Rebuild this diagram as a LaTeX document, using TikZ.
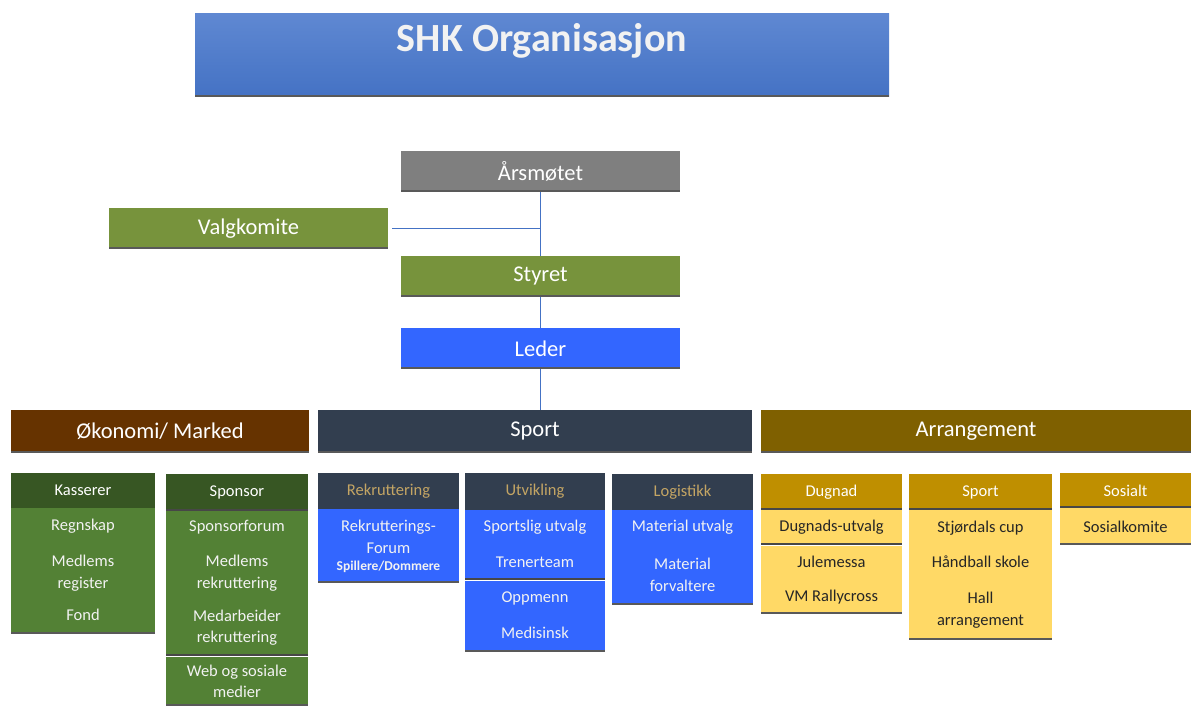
\documentclass[tikz,border=0pt]{standalone}
\usepackage{fontspec}
\setmainfont{Carlito}
\definecolor{grayb}{HTML}{7F7F7F}
\definecolor{greenb}{HTML}{77933C}
\definecolor{blueb}{HTML}{3366FF}
\definecolor{brownb}{HTML}{663300}
\definecolor{navyb}{HTML}{323E4F}
\definecolor{oliveb}{HTML}{7F6000}
\definecolor{dkgreen}{HTML}{375623}
\definecolor{midgreen}{HTML}{538135}
\definecolor{goldb}{HTML}{BF8F00}
\definecolor{lyellow}{HTML}{FFD966}
\definecolor{goldtxt}{HTML}{C4A564}
\definecolor{botgray}{HTML}{595959}
\definecolor{connb}{HTML}{4472C4}
\definecolor{titletop}{HTML}{5F88D2}
\definecolor{titlebot}{HTML}{4472C4}
\definecolor{darktxt}{HTML}{262626}
\tikzset{
  bx/.style={anchor=north west, inner sep=0pt, outer sep=0pt},
  big/.style={bx, text=white, font=\fontsize{22.5}{26}\selectfont},
  hd/.style={bx, font=\fontsize{16.5}{20}\selectfont},
  item/.style={inner sep=0pt, align=center, font=\fontsize{16.5}{21.5}\selectfont},
  bot/.style={draw=botgray, line width=2.5pt},
  sep/.style={draw=botgray!80!black, line width=1.6pt},
  conn/.style={draw=connb, line width=1pt}
}
\begin{document}
\begin{tikzpicture}[x=1pt,y=-1pt]
\useasboundingbox (0,0) rectangle (1191,706);
% title
\node[bx, top color=titletop, bottom color=titlebot, minimum width=694pt, minimum height=83pt] (title) at (195,14) {};
\node[text=white!95!black, font=\fontsize{40}{44}\selectfont\bfseries, inner sep=0pt] (titletxt) at (542,41) {SHK Organisasjon};
\draw[bot] ([yshift=1.2pt]title.south west) -- ([yshift=1.2pt]title.south east);

% top chain
\node[big, fill=grayb, minimum width=279pt, minimum height=41pt] (aars) at (401,151) {Årsmøtet};
\node[big, fill=greenb, minimum width=279pt, minimum height=41pt] (valg) at (109,208) {Valgkomite};
\node[big, fill=greenb, minimum width=279pt, minimum height=41pt] (styret) at (401,256) {Styret};
\node[big, fill=blueb, minimum width=279pt, minimum height=41pt] (leder) at (401,328) {Leder};

\node[big, fill=brownb, minimum width=298pt, minimum height=43pt] (okon) at (11,410) {Økonomi/ Marked};
\node[big, fill=navyb, minimum width=434pt, minimum height=43pt] (sport) at (318,410) {Sport};
\node[big, fill=oliveb, minimum width=430pt, minimum height=43pt] (arr) at (761,410) {Arrangement};

\draw[conn] (aars.south) -- (styret.north);
\draw[conn] ([xshift=4pt]valg.east) -- (valg.east -| aars.south);
\draw[conn] (styret.south) -- (leder.north);
\draw[conn] (leder.south) -- (leder.south |- sport.north);

% Okonomi columns
\node[hd, fill=dkgreen, text=white, minimum width=144pt, minimum height=35pt] (kass) at (11,473) {Kasserer};
\node[bx, fill=midgreen, minimum width=144pt, minimum height=126pt] (kassb) at (11,508) {};
\node[hd, fill=dkgreen, text=white, minimum width=142pt, minimum height=37pt] (spon) at (166,474) {Sponsor};
\node[bx, fill=midgreen, minimum width=142pt, minimum height=145pt] (sponb) at (166,511) {};
\node[bx, fill=midgreen, minimum width=142pt, minimum height=49pt] (web) at (166,657) {};

% Sport columns
\node[hd, fill=navyb, text=goldtxt, minimum width=141pt, minimum height=36pt] (rekr) at (318,473) {Rekruttering};
\node[bx, fill=blueb, minimum width=141pt, minimum height=74pt] (rekrb) at (318,509) {};
\node[hd, fill=navyb, text=goldtxt, minimum width=140pt, minimum height=37pt] (utv) at (465,473) {Utvikling};
\node[bx, fill=blueb, minimum width=140pt, minimum height=70pt] (utvb) at (465,510) {};
\node[bx, fill=blueb, minimum width=140pt, minimum height=71pt] (utvc) at (465,581) {};
\node[hd, fill=navyb, text=goldtxt, minimum width=141pt, minimum height=36pt] (log) at (612,474) {Logistikk};
\node[bx, fill=blueb, minimum width=141pt, minimum height=95pt] (logb) at (612,510) {};

% Arrangement columns
\node[hd, fill=goldb, text=white, minimum width=141pt, minimum height=36pt] (dugn) at (761,474) {Dugnad};
\node[bx, fill=lyellow, minimum width=141pt, minimum height=35pt] (dugnb) at (761,510) {};
\node[bx, fill=lyellow, minimum width=141pt, minimum height=68pt] (dugnc) at (761,546) {};
\node[hd, fill=goldb, text=white, minimum width=143pt, minimum height=36pt] (asport) at (909,474) {Sport};
\node[bx, fill=lyellow, minimum width=143pt, minimum height=130pt] (asportb) at (909,510) {};
\node[hd, fill=goldb, text=white, minimum width=131pt, minimum height=35pt] (sos) at (1060,473) {Sosialt};
\node[bx, fill=lyellow, minimum width=131pt, minimum height=37pt] (sosb) at (1060,508) {};

% bottom borders
\foreach \n in {aars,valg,styret,leder,okon,sport,arr,kassb,web,rekrb,utvc,logb,dugnc,asportb,sosb}{
  \draw[bot] ([yshift=1.2pt]\n.south west) -- ([yshift=1.2pt]\n.south east);
}
\foreach \n in {spon,sponb,utvb,dugn,dugnb,asport,sos}{
  \draw[sep] ([yshift=0.8pt]\n.south west) -- ([yshift=0.8pt]\n.south east);
}

% items
\begin{scope}[every node/.append style={text=white!95!black}]
\node[item] (i1) at (83,526) {Regnskap};
\node[item] (i2) at (83,573) {Medlems\\register};
\node[item] (i3) at (83,615) {Fond};
\node[item] (i4) at (237,527) {Sponsorforum};
\node[item] (i5) at (237,573) {Medlems\\rekruttering};
\node[item] (i6) at (237,627.5) {Medarbeider\\rekruttering};
\node[item] (i7) at (237,681.5) {Web og sosiale\\medier};
\node[item] (i8) at (388.5,537) {Rekrutterings-\\Forum};
\node[item, font=\fontsize{13.5}{16}\selectfont\bfseries] (i9) at (388.5,567) {Spillere/Dommere};
\node[item] (i10) at (535,527) {Sportslig utvalg};
\node[item] (i11) at (535,562) {Trenerteam};
\node[item] (i12) at (535,598) {Oppmenn};
\node[item] (i13) at (535,633) {Medisinsk};
\node[item] (i14) at (682.5,527) {Material utvalg};
\node[item] (i15) at (682.5,575) {Material\\forvaltere};
\end{scope}
\begin{scope}[every node/.append style={text=darktxt}]
\node[item] (i16) at (831.5,527) {Dugnads-utvalg};
\node[item] (i17) at (831.5,562) {Julemessa};
\node[item] (i18) at (831.5,597) {VM Rallycross};
\node[item] (i19) at (980.5,528) {Stjørdals cup};
\node[item] (i20) at (980.5,562) {Håndball skole};
\node[item] (i21) at (980.5,610) {Hall\\arrangement};
\node[item] (i22) at (1125.5,527) {Sosialkomite};
\end{scope}
\end{tikzpicture}
\end{document}
